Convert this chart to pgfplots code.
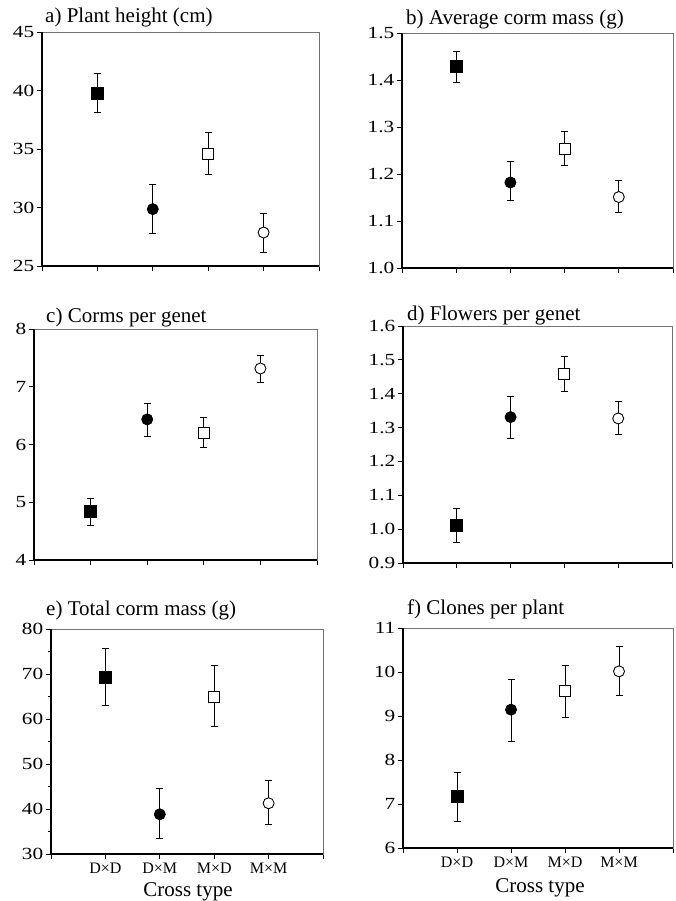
\documentclass[border=0pt]{standalone}
\usepackage{pgfplots}
\pgfplotsset{compat=1.18}
\usepackage{fontspec}
\setmainfont{Liberation Serif}
\pgfplotsset{
 panel/.style={
  scale only axis,
  anchor=south west,
  xmin=0, xmax=5,
  xtick={0,1,2,3,4,5},
  xticklabels={},
  xtick pos=bottom, ytick pos=left,
  tick align=outside,
  major tick length=5pt,
  minor tick length=3pt,
  axis line style={draw=black!55, line width=0.7pt},
  tick style={black, line width=0.9pt},
  yticklabel style={font=\fontsize{17}{17}\selectfont, xscale=1.25, inner sep=2pt},
  xticklabel style={font=\fontsize{16}{16}\selectfont, inner sep=2pt, yshift=-2pt},
  /pgf/number format/assume math mode=true,
  clip=false,
  error bars/y dir=both, error bars/y explicit,
  error bars/error bar style={black, line width=0.8pt},
  error bars/error mark options={rotate=90, mark size=3.5pt, line width=0.8pt, black},
  extra description/.code={\draw[black, line width=1.1pt] (0,1)--(0,0)--(1,0);},
 },
 dd/.style={only marks, mark=square*, mark size=6pt, mark options={draw=black, fill=black, line width=0.9pt}},
 dm/.style={only marks, mark=*, mark size=5.5pt, mark options={draw=black, fill=black, line width=0.9pt}},
 md/.style={only marks, mark=square*, mark size=5.5pt, mark options={draw=black, fill=white, line width=0.9pt}},
 mm/.style={only marks, mark=*, mark size=5.5pt, mark options={draw=black, fill=white, line width=0.9pt}},
 bottomlabels/.style={xticklabels={,D×D,D×M,M×D,M×M,}},
 onedec/.style={yticklabel style={/pgf/number format/.cd, fixed, fixed zerofill, precision=1}},
}
\begin{document}
\begin{tikzpicture}
\useasboundingbox (0pt,0pt) rectangle (675pt,-901pt);
% a) Plant height
\begin{axis}[panel, at={(42pt,-266pt)}, width=277pt, height=234pt,
  ymin=25, ymax=45, ytick={25,30,35,40,45}]
\addplot+[dd] coordinates {(1,39.77) += (0,1.72) -= (0,1.68)};
\addplot+[dm] coordinates {(2,29.86) += (0,2.14) -= (0,2.06)};
\addplot+[md] coordinates {(3,34.57) += (0,1.83) -= (0,1.77)};
\addplot+[mm] coordinates {(4,27.86) += (0,1.65) -= (0,1.72)};
\end{axis}
% b) Average corm mass
\begin{axis}[panel, onedec, at={(402pt,-268pt)}, width=271pt, height=235pt,
  ymin=1.0, ymax=1.5, ytick={1.0,1.1,1.2,1.3,1.4,1.5}]
\addplot+[dd] coordinates {(1,1.428) += (0,0.033) -= (0,0.033)};
\addplot+[dm] coordinates {(2,1.182) += (0,0.044) -= (0,0.039)};
\addplot+[md] coordinates {(3,1.254) += (0,0.037) -= (0,0.036)};
\addplot+[mm] coordinates {(4,1.151) += (0,0.036) -= (0,0.032)};
\end{axis}
% c) Corms per genet
\begin{axis}[panel, at={(34pt,-560pt)}, width=283pt, height=231pt,
  ymin=4, ymax=8, ytick={4,5,6,7,8}]
\addplot+[dd] coordinates {(1,4.846) += (0,0.224) -= (0,0.246)};
\addplot+[dm] coordinates {(2,6.435) += (0,0.285) -= (0,0.29)};
\addplot+[md] coordinates {(3,6.20) += (0,0.27) -= (0,0.25)};
\addplot+[mm] coordinates {(4,7.316) += (0,0.232) -= (0,0.236)};
\end{axis}
% d) Flowers per genet
\begin{axis}[panel, onedec, at={(403pt,-563pt)}, width=269pt, height=237pt,
  ymin=0.9, ymax=1.6, ytick={0.9,1.0,1.1,1.2,1.3,1.4,1.5,1.6}]
\addplot+[dd] coordinates {(1,1.012) += (0,0.05) -= (0,0.05)};
\addplot+[dm] coordinates {(2,1.331) += (0,0.06) -= (0,0.062)};
\addplot+[md] coordinates {(3,1.459) += (0,0.052) -= (0,0.051)};
\addplot+[mm] coordinates {(4,1.327) += (0,0.049) -= (0,0.047)};
\end{axis}
% e) Total corm mass
\begin{axis}[panel, bottomlabels, at={(51pt,-854pt)}, width=272pt, height=225pt,
  ymin=30, ymax=80, ytick={30,40,50,60,70,80}, minor y tick num=1]
\addplot+[dd] coordinates {(1,69.24) += (0,6.46) -= (0,6.3)};
\addplot+[dm] coordinates {(2,38.83) += (0,5.71) -= (0,5.27)};
\addplot+[md] coordinates {(3,65.0) += (0,6.9) -= (0,6.66)};
\addplot+[mm] coordinates {(4,41.28) += (0,4.97) -= (0,4.68)};
\end{axis}
% f) Clones per plant
\begin{axis}[panel, bottomlabels, at={(403pt,-848pt)}, width=270pt, height=220pt,
  ymin=6, ymax=11, ytick={6,7,8,9,10,11}]
\addplot+[dd] coordinates {(1,7.167) += (0,0.553) -= (0,0.553)};
\addplot+[dm] coordinates {(2,9.144) += (0,0.697) -= (0,0.712)};
\addplot+[md] coordinates {(3,9.576) += (0,0.576) -= (0,0.614)};
\addplot+[mm] coordinates {(4,10.015) += (0,0.568) -= (0,0.553)};
\end{axis}
% titles
\begin{scope}[every node/.style={anchor=base west, inner sep=0pt, font=\fontsize{21}{21}\selectfont}]
\node at (45pt,-23pt) {a) Plant height (cm)};
\node at (406pt,-25pt) {b) Average corm mass (g)};
\node at (46pt,-322pt) {c) Corms per genet};
\node at (407pt,-320pt) {d) Flowers per genet};
\node at (46pt,-615pt) {e) Total corm mass (g)};
\node at (407pt,-614pt) {f) Clones per plant};
\end{scope}
\node[anchor=base, inner sep=0pt, font=\fontsize{21}{21}\selectfont] at (188pt,-896pt) {Cross type};
\node[anchor=base, inner sep=0pt, font=\fontsize{21}{21}\selectfont] at (540pt,-892pt) {Cross type};
\end{tikzpicture}
\end{document}
